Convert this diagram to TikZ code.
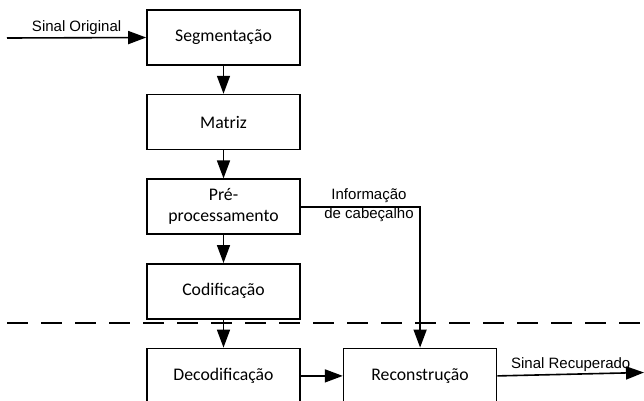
\documentclass[tikz,border=0pt]{standalone}
\usepackage{fontspec}
\setmainfont{Carlito}
\newfontfamily\arialfont{Liberation Sans}
\usepackage{tikz}
\usetikzlibrary{arrows.meta,positioning}

\begin{document}
\begin{tikzpicture}[
    x=1pt, y=-1pt,
    node distance=28pt,
    block/.style={rectangle, draw, line width=1.6pt, minimum width=153pt, minimum height=55pt, align=center, font=\fontsize{17.7}{21}\selectfont, inner sep=0pt},
    lbl/.style={font=\arialfont\fontsize{15}{19}\selectfont, align=center, inner sep=2pt},
    arr/.style={-{Triangle[length=18pt, width=13pt]}, line width=1.6pt},
    cut/.style={line width=1.6pt, dash pattern=on 21pt off 13pt}
]
\useasboundingbox (0,0) rectangle (644,400);

% Encoder Column
\node[block] (seg) at (223.5, 37.5) {Segmentação};
\node[block, below=of seg] (mat) {Matriz};
\node[block, below=of mat] (pre) {Pré-\\processamento};
\node[block, below=of pre] (cod) {Codificação};
\draw[arr] (seg)--(mat); \draw[arr] (mat)--(pre); \draw[arr] (pre)--(cod);

% Input
\coordinate (in) at (7, 38);
\draw[arr] (in)--(seg.west) node[lbl, midway, above] {Sinal Original};

% Channel
\coordinate (cl) at (7, 323);
\coordinate (cr) at (644, 323);
\draw[cut] (cl)--(cr);

% Decoder Row
\node[block, below=of cod] (dec) {Decodificação};
\node[block, right=42pt of dec] (rec) {Reconstrução};
\draw[arr] (cod)--(dec); \draw[arr] (dec)--(rec);

% Side information
\node[lbl] (info) at (369, 205) {Informação\\de cabeçalho};
\draw[arr] (pre.east) -| (rec.north);

% Output
\coordinate (out) at (644, 372.5);
\draw[arr] (rec.east)--(out) node[lbl, midway, above] {Sinal Recuperado};

\end{tikzpicture}
\end{document}
